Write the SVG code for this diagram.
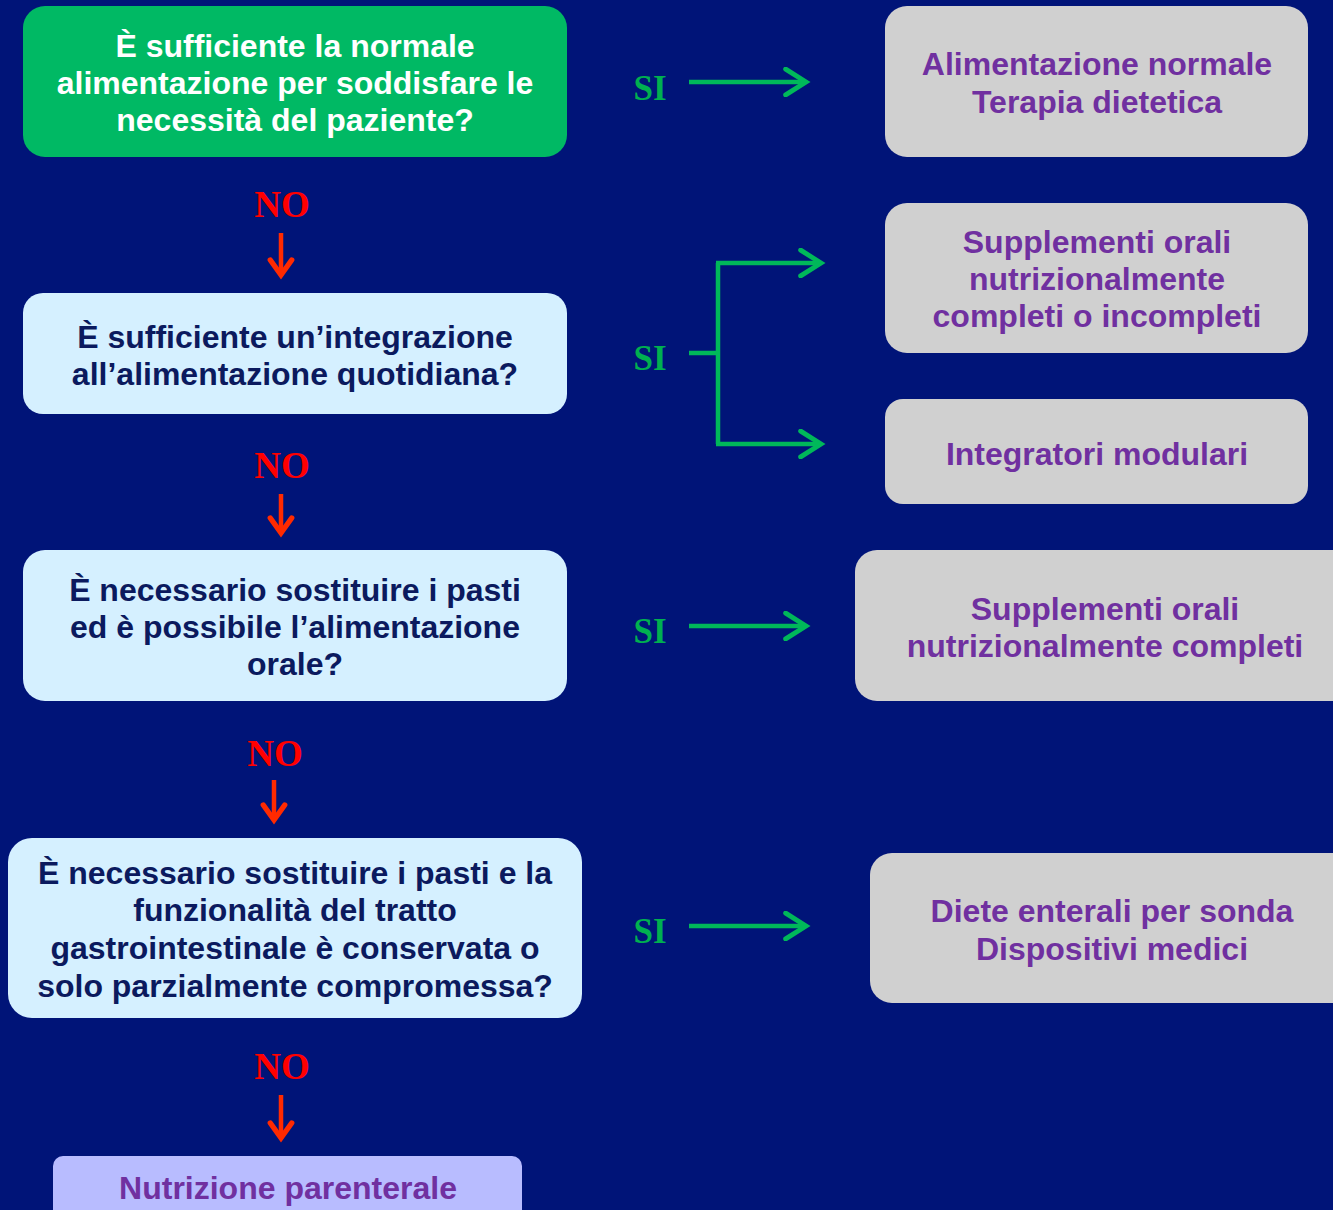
<svg xmlns="http://www.w3.org/2000/svg" width="1333" height="1210" viewBox="0 0 1333 1210">
<defs>
<style>
.q{font-family:"Liberation Sans",Arial,sans-serif;font-weight:bold;font-size:32px;text-anchor:middle;fill:#0B1A5E}
.w{fill:#FFFFFF}
.r{font-family:"Liberation Sans",Arial,sans-serif;font-weight:bold;font-size:32px;text-anchor:middle;fill:#7030A0}
.no{font-family:"Liberation Serif","Times New Roman",serif;font-weight:bold;font-size:37px;text-anchor:middle;fill:#FF0000}
.si{font-family:"Liberation Serif","Times New Roman",serif;font-weight:bold;font-size:35px;text-anchor:middle;fill:#00B050}
.gl{fill:none;stroke:#00B85A;stroke-width:4.5}
.rl{fill:none;stroke:#FF2A00;stroke-width:4.5}
</style>
<marker id="ga" markerUnits="userSpaceOnUse" markerWidth="30" markerHeight="30" viewBox="-22 -14 26 28" refX="0" refY="0" orient="auto">
<path d="M-19,-12 L0,0 L-19,12" fill="none" stroke="#00B85A" stroke-width="4.5" stroke-linecap="round" stroke-linejoin="miter"/>
</marker>
<marker id="ra" markerUnits="userSpaceOnUse" markerWidth="30" markerHeight="30" viewBox="-20 -14 24 28" refX="0" refY="0" orient="auto">
<path d="M-14,-10 L0,0 L-14,10" fill="none" stroke="#FF2A00" stroke-width="5" stroke-linecap="round" stroke-linejoin="miter"/>
</marker>
</defs>
<rect x="0" y="0" width="1333" height="1210" fill="#001478"/>

<g id="q1">
<rect x="23" y="6" width="544" height="151" rx="22" fill="#00B964"/>
<text class="q w" x="295" y="57">È sufficiente la normale</text>
<text class="q w" x="295" y="94">alimentazione per soddisfare le</text>
<text class="q w" x="295" y="131">necessità del paziente?</text>
</g>
<g id="q2">
<rect x="23" y="293" width="544" height="121" rx="20" fill="#D5F0FF"/>
<text class="q" x="295" y="348">È sufficiente un’integrazione</text>
<text class="q" x="295" y="385">all’alimentazione quotidiana?</text>
</g>
<g id="q3">
<rect x="23" y="550" width="544" height="151" rx="22" fill="#D5F0FF"/>
<text class="q" x="295" y="601">È necessario sostituire i pasti</text>
<text class="q" x="295" y="638">ed è possibile l’alimentazione</text>
<text class="q" x="295" y="675">orale?</text>
</g>
<g id="q4">
<rect x="8" y="838" width="574" height="180" rx="24" fill="#D5F0FF"/>
<text class="q" x="295" y="884">È necessario sostituire i pasti e la</text>
<text class="q" x="295" y="921">funzionalità del tratto</text>
<text class="q" x="295" y="959">gastrointestinale è conservata o</text>
<text class="q" x="295" y="997">solo parzialmente compromessa?</text>
</g>
<g id="q5">
<rect x="53" y="1156" width="469" height="70" rx="10" fill="#B8BCFF"/>
<text class="r" x="288" y="1199">Nutrizione parenterale</text>
</g>

<g id="a1">
<rect x="885" y="6" width="423" height="151" rx="22" fill="#D0D0D0"/>
<text class="r" x="1097" y="75">Alimentazione normale</text>
<text class="r" x="1097" y="113">Terapia dietetica</text>
</g>
<g id="a2">
<rect x="885" y="203" width="423" height="150" rx="22" fill="#D0D0D0"/>
<text class="r" x="1097" y="253">Supplementi orali</text>
<text class="r" x="1097" y="290">nutrizionalmente</text>
<text class="r" x="1097" y="327">completi o incompleti</text>
</g>
<g id="a3">
<rect x="885" y="399" width="423" height="105" rx="18" fill="#D0D0D0"/>
<text class="r" x="1097" y="465">Integratori modulari</text>
</g>
<g id="a4">
<rect x="855" y="550" width="500" height="151" rx="22" fill="#D0D0D0"/>
<text class="r" x="1105" y="620">Supplementi orali</text>
<text class="r" x="1105" y="657">nutrizionalmente completi</text>
</g>
<g id="a5">
<rect x="870" y="853" width="485" height="150" rx="22" fill="#D0D0D0"/>
<text class="r" x="1112" y="922">Diete enterali per sonda</text>
<text class="r" x="1112" y="960">Dispositivi medici</text>
</g>

<g id="connectors">
<text class="si" x="650" y="100">SI</text>
<line class="gl" x1="689" y1="82" x2="806" y2="82" marker-end="url(#ga)"/>
<text class="si" x="650" y="370">SI</text>
<path class="gl" d="M689,353 H718"/>
<path class="gl" d="M718,263 V444"/>
<line class="gl" x1="716" y1="263" x2="821" y2="263" marker-end="url(#ga)"/>
<line class="gl" x1="716" y1="444" x2="821" y2="444" marker-end="url(#ga)"/>
<text class="si" x="650" y="643">SI</text>
<line class="gl" x1="689" y1="626" x2="806" y2="626" marker-end="url(#ga)"/>
<text class="si" x="650" y="943">SI</text>
<line class="gl" x1="689" y1="926" x2="806" y2="926" marker-end="url(#ga)"/>

<text class="no" x="282" y="217">NO</text>
<line class="rl" x1="281" y1="233" x2="281" y2="275" marker-end="url(#ra)"/>
<text class="no" x="282" y="478">NO</text>
<line class="rl" x1="281" y1="494" x2="281" y2="533" marker-end="url(#ra)"/>
<text class="no" x="275" y="766">NO</text>
<line class="rl" x1="274" y1="780" x2="274" y2="820" marker-end="url(#ra)"/>
<text class="no" x="282" y="1079">NO</text>
<line class="rl" x1="281" y1="1095" x2="281" y2="1138" marker-end="url(#ra)"/>
</g>
</svg>
